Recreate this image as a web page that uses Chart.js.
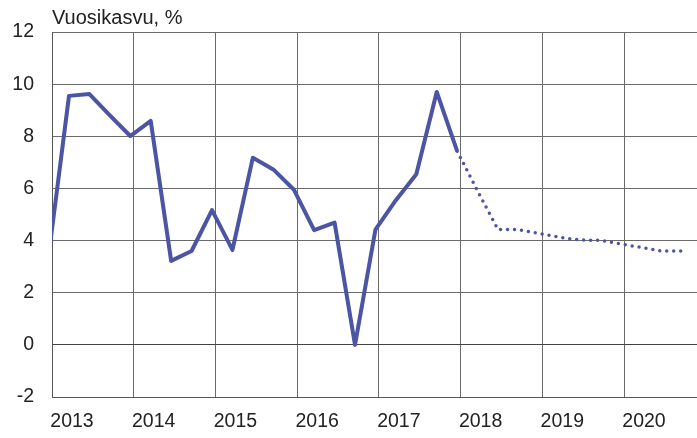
<!DOCTYPE html>
<html>
<head>
<meta charset="utf-8">
<script src="https://cdn.jsdelivr.net/npm/chart.js"></script>
<style>
  html, body { margin: 0; padding: 0; background: #fff; }
  #wrap { width: 697px; height: 438px; }
</style>
</head>
<body>
<div id="wrap"><canvas id="myChart"></canvas></div>
<script>
// quarterly, actual (solid) and forecast (dotted)
const quarters = [
  '2012Q4',
  '2013Q1', '2013Q2', '2013Q3', '2013Q4',
  '2014Q1', '2014Q2', '2014Q3', '2014Q4',
  '2015Q1', '2015Q2', '2015Q3', '2015Q4',
  '2016Q1', '2016Q2', '2016Q3', '2016Q4',
  '2017Q1', '2017Q2', '2017Q3', '2017Q4',
  '2018Q1', '2018Q2', '2018Q3', '2018Q4',
  '2019Q1', '2019Q2', '2019Q3', '2019Q4',
  '2020Q1', '2020Q2', '2020Q3'
];
const actual = [
  3.4,
  9.55, 9.62, 8.8, 8.01,
  8.59, 3.22, 3.6, 5.17,
  3.64, 7.18, 6.73, 5.96,
  4.4, 4.69, 0.0, 4.42,
  5.55, 6.54, 9.7, 7.43,
  null, null, null, null,
  null, null, null, null,
  null, null, null
];
const forecast = [
  null,
  null, null, null, null,
  null, null, null, null,
  null, null, null, null,
  null, null, null, null,
  null, null, null, 7.43,
  5.9, 4.42, 4.42, 4.27,
  4.13, 4.02, 4.01, 3.87,
  3.74, 3.6, 3.6
];
const years = ['2013', '2014', '2015', '2016', '2017', '2018', '2019', '2020'];
const yTicks = [-2, 0, 2, 4, 6, 8, 10, 12];

function quarterPos(q) {
  const y = parseInt(q.slice(0, 4));
  const n = parseInt(q.slice(5));
  return y + n * 0.25 - 0.042;
}

function toPoints(values) {
  return quarters.map((q, i) => ({ x: quarterPos(q), y: values[i] }));
}

const font = { family: 'Liberation Sans, Arial, sans-serif', size: 19.5 };

const ctx = document.getElementById('myChart');
new Chart(ctx, {
  type: 'line',
  data: {
    datasets: [{
      label: 'Toteutunut',
      data: toPoints(actual),
      borderColor: '#4b55a3',
      borderWidth: 4,
      pointRadius: 0,
      tension: 0,
      borderJoinStyle: 'round',
      clip: { left: 0, right: 0, top: 10, bottom: 10 }
    }, {
      label: 'Ennuste',
      data: toPoints(forecast),
      borderColor: '#4b55a3',
      borderWidth: 3.5,
      borderDash: [0, 7],
      borderCapStyle: 'round',
      pointRadius: 0,
      tension: 0,
      clip: { left: 0, right: 0, top: 10, bottom: 10 }
    }]
  },
  options: {
    responsive: true,
    maintainAspectRatio: false,
    animation: false,
    layout: { padding: 0 },
    scales: {
      x: {
        type: 'linear',
        min: 2013,
        max: 2020.893,
        afterBuildTicks: axis => { axis.ticks = years.map(y => ({ value: +y })); },
        afterFit: s => { s.height = 41; },
        ticks: {
          callback: (v, i) => years[i],
          labelOffset: 20,
          padding: 13,
          maxRotation: 0,
          autoSkip: false,
          color: '#222',
          font: font
        },
        grid: { color: '#6a6a6a', lineWidth: 1, drawTicks: false },
        border: { color: '#555', width: 1 }
      },
      y: {
        min: -2,
        max: 12,
        afterBuildTicks: axis => { axis.ticks = yTicks.map(v => ({ value: v })); },
        afterFit: s => { s.width = 52; },
        ticks: {
          padding: 18,
          color: '#222',
          font: font
        },
        grid: {
          color: c => (c.tick && c.tick.value === 0) ? '#444' : '#6a6a6a',
          lineWidth: 1,
          drawTicks: false
        },
        border: { color: '#555', width: 1 }
      }
    },
    plugins: {
      legend: { display: false },
      tooltip: { enabled: false },
      title: {
        display: true,
        text: 'Vuosikasvu, %',
        align: 'start',
        fullSize: false,
        color: '#222',
        font: { family: 'Liberation Sans, Arial, sans-serif', size: 20, weight: 'normal' },
        padding: { top: 6, bottom: 2 }
      }
    }
  }
});
</script>
</body>
</html>
